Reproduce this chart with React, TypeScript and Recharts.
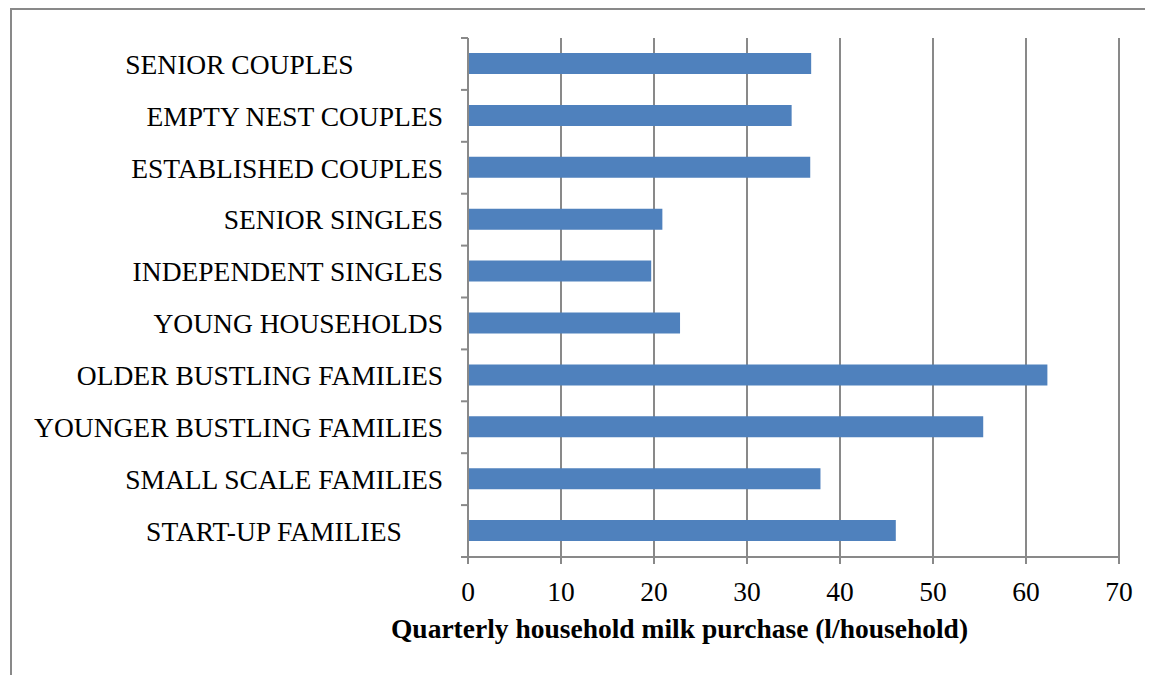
import React from "react";
import { BarChart, Bar, XAxis, YAxis, CartesianGrid } from "recharts";

const categories = [
  "SENIOR COUPLES",
  "EMPTY NEST COUPLES",
  "ESTABLISHED COUPLES",
  "SENIOR SINGLES",
  "INDEPENDENT SINGLES",
  "YOUNG HOUSEHOLDS",
  "OLDER BUSTLING FAMILIES",
  "YOUNGER BUSTLING FAMILIES",
  "SMALL SCALE FAMILIES",
  "START-UP FAMILIES",
];

const purchases = [36.9, 34.8, 36.8, 20.9, 19.7, 22.8, 62.3, 55.4, 37.9, 46.0];

const xTicks = [0, 10, 20, 30, 40, 50, 60, 70];

const axisTitle = "Quarterly household milk purchase (l/household)";

const data = categories.map((name, i) => ({ name, value: purchases[i] }));

const FONT = "'Liberation Serif', 'Times New Roman', serif";
const GRID = "#898989";
const PLOT_H = 519;
const BAND = PLOT_H / categories.length;

// trailing padding (in spaces) as in the source labels
const labelPad: Record<string, number> = {
  "SENIOR COUPLES": 13,
  "START-UP FAMILIES": 6,
};

const YTick = (props: any) => {
  const { x, y, payload, index } = props;
  const axisX = x + 25;
  const half = BAND / 2;
  const pad = "\u00A0".repeat(labelPad[payload.value] || 0);
  return (
    <g>
      <line x1={axisX - 7} x2={axisX} y1={y - half} y2={y - half} stroke={GRID} strokeWidth={2} />
      {index === categories.length - 1 && (
        <line x1={axisX - 7} x2={axisX} y1={y + half} y2={y + half} stroke={GRID} strokeWidth={2} />
      )}
      <text x={x} y={y} dy="0.355em" textAnchor="end" fontFamily={FONT} fontSize={27.5} fill="#000">
        {payload.value + pad}
      </text>
    </g>
  );
};

const TitleLabel = (props: any) => {
  const vb = props.viewBox || {};
  return (
    <text
      x={vb.x + vb.width / 2 - 114}
      y={vb.y + 81}
      textAnchor="middle"
      fontFamily={FONT}
      fontSize={27.5}
      fontWeight="bold"
      fill="#000"
    >
      {axisTitle}
    </text>
  );
};

export default function App() {
  return (
    <div
      style={{
        marginLeft: 2,
        width: 1143,
        height: 667,
        borderLeft: `2px solid ${GRID}`,
        borderTop: `2px solid ${GRID}`,
        boxSizing: "border-box",
        background: "#fff",
      }}
    >
      <BarChart
        width={1141}
        height={665}
        data={data}
        layout="vertical"
        margin={{ top: 28, right: 34, left: 0, bottom: 0 }}
      >
        <CartesianGrid horizontal={false} stroke={GRID} strokeWidth={2} />
        <XAxis
          type="number"
          domain={[0, 70]}
          ticks={xTicks}
          interval={0}
          height={118}
          axisLine={{ stroke: GRID, strokeWidth: 2 }}
          tickLine={{ stroke: GRID, strokeWidth: 2 }}
          tickSize={7}
          tickMargin={17}
          tick={{ fontFamily: FONT, fontSize: 27.5, fill: "#000" }}
          label={TitleLabel}
        />
        <YAxis
          type="category"
          dataKey="name"
          width={456}
          interval={0}
          axisLine={{ stroke: GRID, strokeWidth: 2 }}
          tickLine={false}
          tickSize={0}
          tickMargin={25}
          tick={YTick}
        />
        <Bar dataKey="value" fill="#4F81BD" barSize={21} isAnimationActive={false} />
      </BarChart>
    </div>
  );
}
